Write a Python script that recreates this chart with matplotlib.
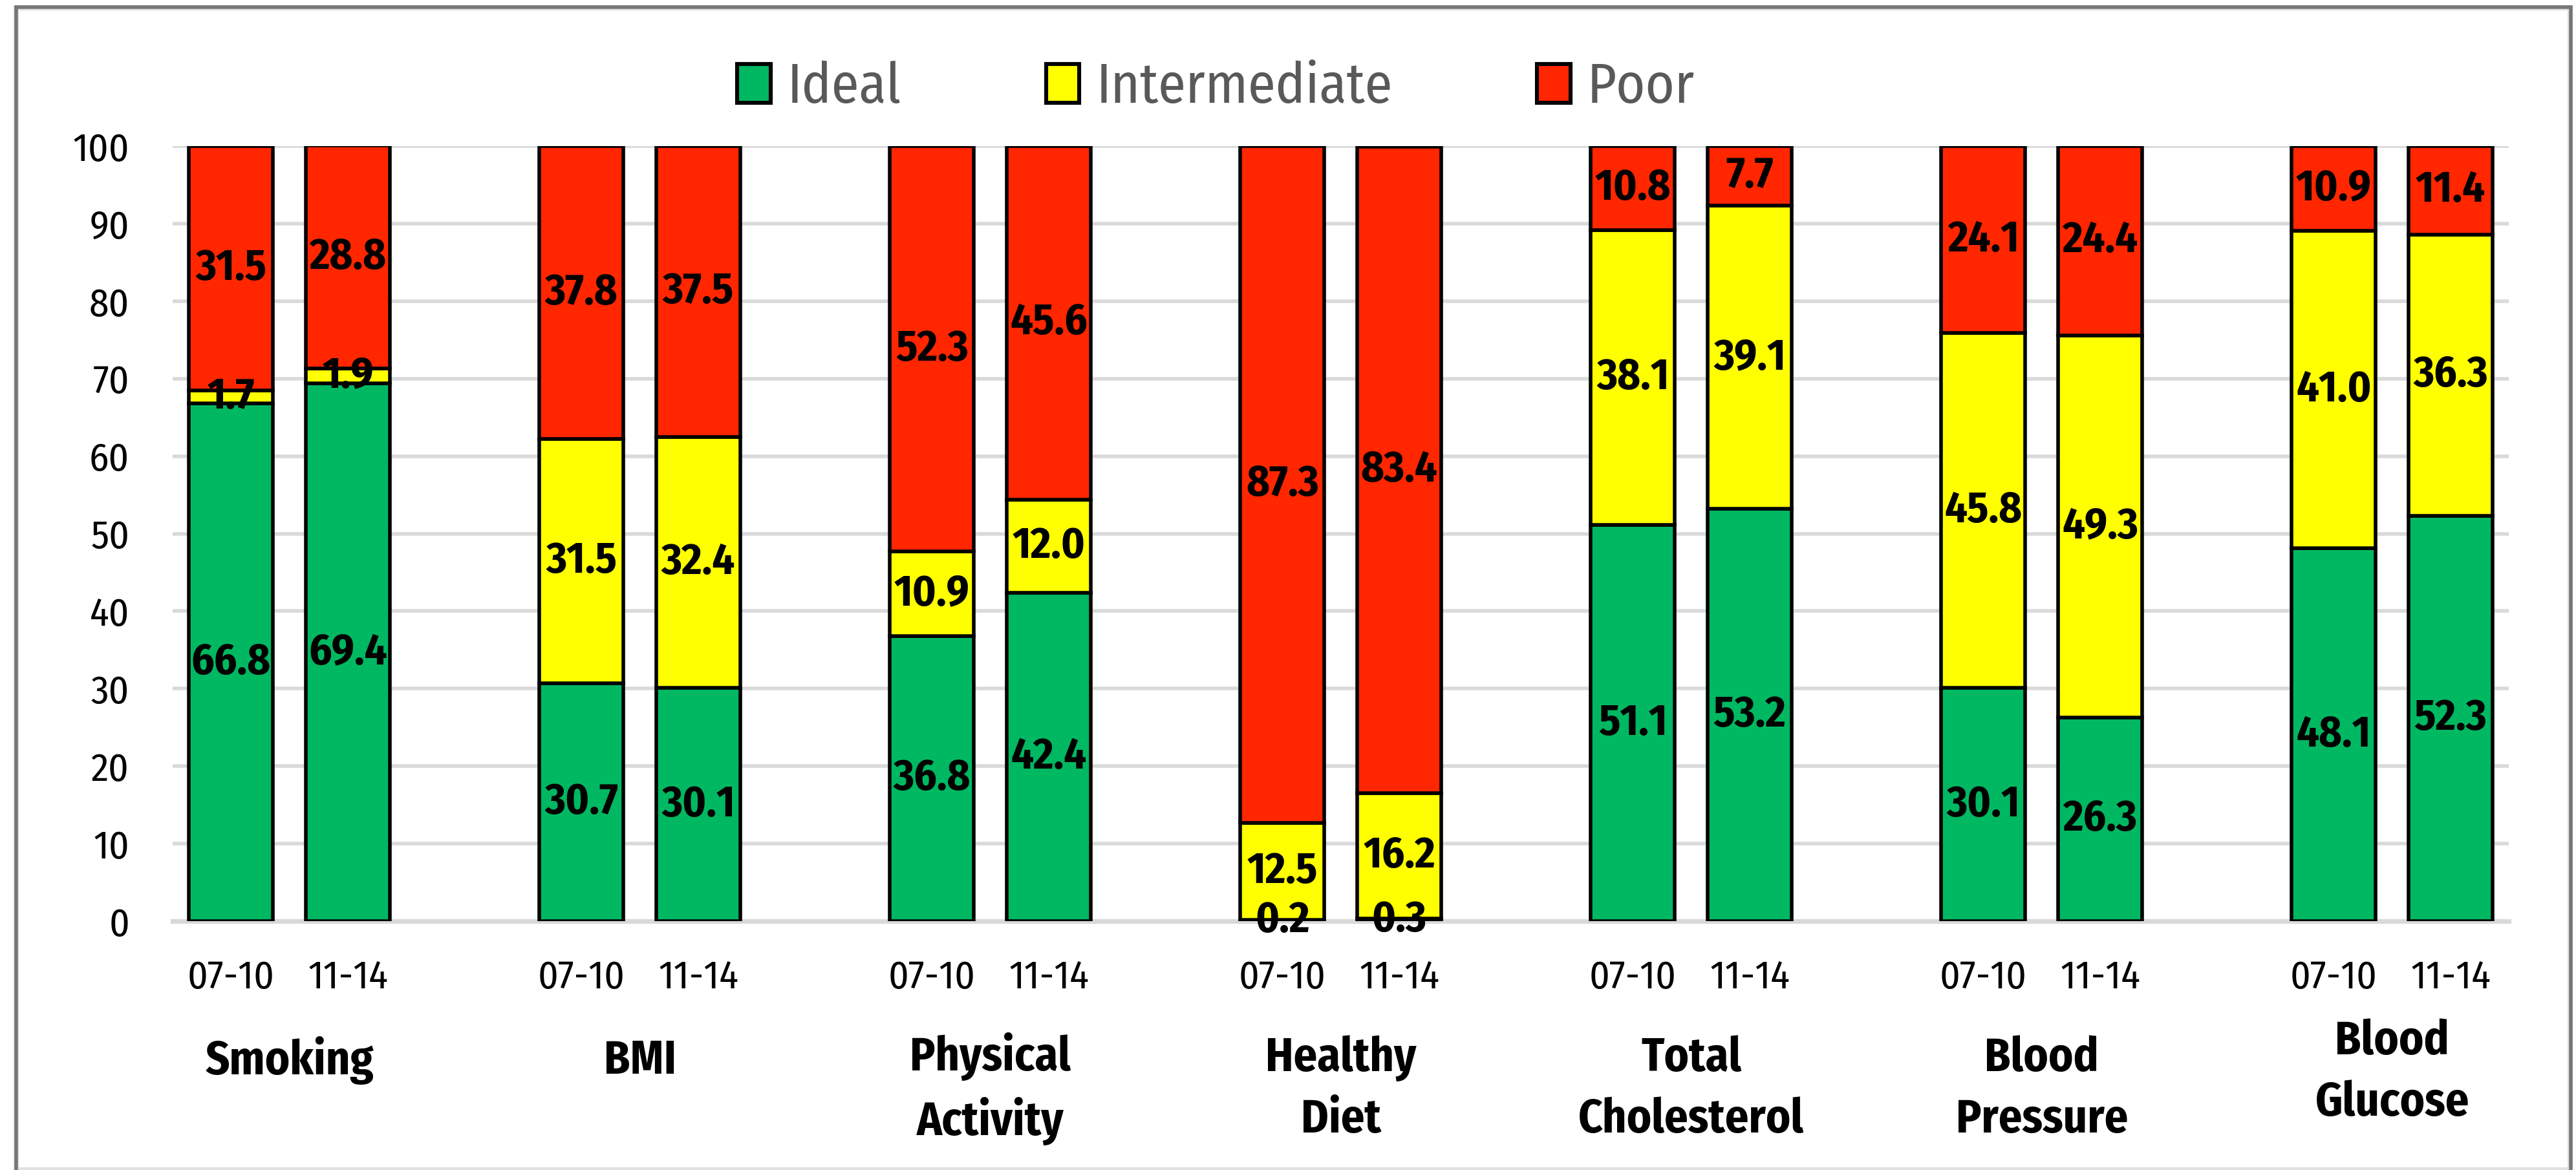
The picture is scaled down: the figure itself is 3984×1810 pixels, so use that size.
import matplotlib
matplotlib.use("Agg")
import matplotlib.pyplot as plt
from matplotlib.patches import Patch, Rectangle
import numpy as np

categories = ["Smoking", "BMI", "Physical\nActivity", "Healthy\nDiet",
              "Total\nCholesterol", "Blood\nPressure", "Blood\nGlucose"]
periods = ["07-10", "11-14"]

# one value per bar: each category has a 07-10 and an 11-14 bar
ideal = [66.8, 69.4, 30.7, 30.1, 36.8, 42.4, 0.2, 0.3,
         51.1, 53.2, 30.1, 26.3, 48.1, 52.3]
intermediate = [1.7, 1.9, 31.5, 32.4, 10.9, 12.0, 12.5, 16.2,
                38.1, 39.1, 45.8, 49.3, 41.0, 36.3]
poor = [31.5, 28.8, 37.8, 37.5, 52.3, 45.6, 87.3, 83.4,
        10.8, 7.7, 24.1, 24.4, 10.9, 11.4]

GREEN = "#00B862"
YELLOW = "#FFFF00"
RED = "#FF2600"
FONT = ["Fira Sans Condensed", "DejaVu Sans"]

plt.rcParams["font.family"] = FONT

fig = plt.figure(figsize=(19.92, 9.05), dpi=200)
ax = fig.add_axes([0.067, 0.2127, 0.907, 0.6624])

# two bars per group, with an empty slot between groups
x = np.array([3 * g + k for g in range(len(categories)) for k in range(2)])
ideal = np.array(ideal)
intermediate = np.array(intermediate)
poor = np.array(poor)

bar_kw = dict(width=0.72, edgecolor="black", linewidth=2.0, zorder=3)
b1 = ax.bar(x, ideal, color=GREEN, **bar_kw)
b2 = ax.bar(x, intermediate, bottom=ideal, color=YELLOW, **bar_kw)
b3 = ax.bar(x, poor, bottom=ideal + intermediate, color=RED, **bar_kw)

for bars in (b1, b2, b3):
    ax.bar_label(bars, fmt="%.1f", label_type="center", fontsize=24.5,
                 fontweight="bold", color="black", zorder=4)

ax.set_xlim(-0.5, 3 * len(categories) - 1.5)
ax.set_ylim(0, 100)
ax.set_yticks(np.arange(0, 101, 10))
ax.yaxis.grid(True, color="#d9d9d9", linewidth=2.0, zorder=0)
ax.set_axisbelow(True)
for side in ("top", "right", "left"):
    ax.spines[side].set_visible(False)
ax.spines["bottom"].set_color("#d9d9d9")
ax.spines["bottom"].set_linewidth(2.6)
ax.tick_params(axis="both", length=0, colors="black")
ax.tick_params(axis="y", pad=24, labelsize=22)
ax.tick_params(axis="x", pad=21, labelsize=22)
ax.set_xticks(x)
ax.set_xticklabels(periods * len(categories))

# category names under each pair of bars
cat_y = [0.0935, 0.0935, 0.0695, 0.0695, 0.0695, 0.0695, 0.0835]
for g, name in enumerate(categories):
    fig.text(ax.transData.transform((3 * g + 0.5, 0))[0] / fig.bbox.width,
             cat_y[g], name, ha="center", va="center", fontsize=26,
             fontweight="bold", linespacing=1.42)

handles = [Patch(facecolor=c, edgecolor="black", linewidth=2.2)
           for c in (GREEN, YELLOW, RED)]
fig.legend(handles, ["Ideal", "Intermediate", "Poor"], loc="center",
           bbox_to_anchor=(0.472, 0.925), ncol=3, frameon=False,
           fontsize=31, labelcolor="#595959", handlelength=0.6,
           handleheight=0.7, handletextpad=0.3, columnspacing=2.6)

# chart frame
fig.add_artist(Rectangle((0.0062, 0.0), 0.9915, 0.9935,
                         transform=fig.transFigure, fill=False,
                         edgecolor="#e0e0e0", linewidth=3.0))
fig.add_artist(Rectangle((0.0062, -0.01), 0.9918, 1.004,
                         transform=fig.transFigure, fill=False,
                         edgecolor="#767676", linewidth=2.0))

fig.savefig("out.png", dpi=200, facecolor="white")
